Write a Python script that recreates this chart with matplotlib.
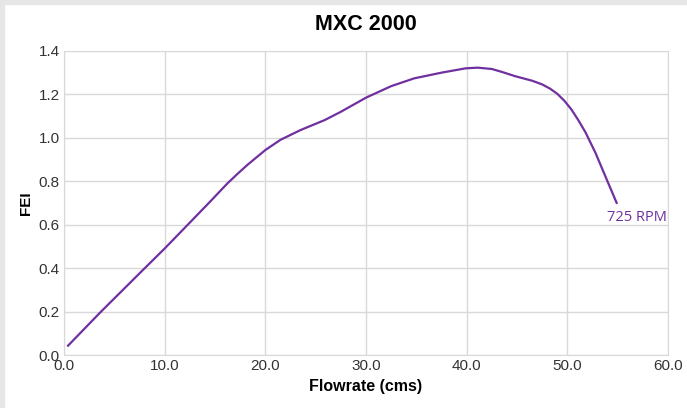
import matplotlib
matplotlib.use("Agg")
import matplotlib.pyplot as plt
from matplotlib.patches import Rectangle

# curve
flow = [0.4, 3.6, 7.9, 10.0, 12.2, 14.5, 16.2, 17.2, 18.2, 20.0, 21.5, 23.5,
        25.9, 27.5, 30.0, 32.5, 34.8, 37.5, 39.9, 41.1, 42.5, 43.6, 44.8,
        46.5, 47.5, 48.3, 49.0, 49.7, 50.4, 51.1, 51.8, 52.8, 53.8, 54.9]
fei = [0.043, 0.196, 0.394, 0.49, 0.595, 0.705, 0.788, 0.832, 0.874, 0.943,
       0.99, 1.035, 1.081, 1.119, 1.184, 1.237, 1.273, 1.299, 1.319, 1.322,
       1.316, 1.301, 1.283, 1.262, 1.245, 1.225, 1.202, 1.17, 1.13, 1.08,
       1.025, 0.93, 0.82, 0.70]
series_label = "725 RPM"
xticks = [0, 10, 20, 30, 40, 50, 60]
yticks = [0.0, 0.2, 0.4, 0.6, 0.8, 1.0, 1.2, 1.4]

plt.rcParams['font.family'] = ['Liberation Sans', 'DejaVu Sans']

fig = plt.figure(figsize=(6.87, 4.08), dpi=100)
fig.patch.set_facecolor('white')
# thin grey frame at top/left like the screenshot
fig.patches.append(Rectangle((0, 0.99), 1, 0.01, transform=fig.transFigure,
                             color='#e6e6e6', zorder=0))
fig.patches.append(Rectangle((0, 0), 0.006, 1, transform=fig.transFigure,
                             color='#e6e6e6', zorder=0))

ax = fig.add_axes([0.0932, 0.1299, 0.8791, 0.7458])
purple = '#7030a0'
ax.plot(flow, fei, color=purple, lw=1.6, solid_joinstyle='round')
ax.text(flow[-1] - 1.0, fei[-1] - 0.035, series_label, color=purple,
        fontsize=10.5, family='Open Sans', ha='left', va='top')

ax.set_xlim(0, 60)
ax.set_ylim(0, 1.4)
ax.set_xticks(xticks)
ax.set_xticklabels([f"{v:.1f}" for v in xticks])
ax.set_yticks(yticks)
ax.set_yticklabels([f"{v:.1f}" for v in yticks])
ax.grid(True, color='#d9d9d9', lw=1)
ax.set_axisbelow(True)
for s in ax.spines.values():
    s.set_color('#d9d9d9')
ax.tick_params(length=0, labelsize=11, colors='#333333', pad=3)

ax.set_title("MXC 2000", fontsize=15.5, fontweight='bold', pad=15)
ax.set_xlabel("Flowrate (cms)", fontsize=11.5, fontweight='bold', labelpad=4)
ax.set_ylabel("FEI", fontsize=11, fontweight='bold', labelpad=4)

fig.savefig("out.png", dpi=100)
